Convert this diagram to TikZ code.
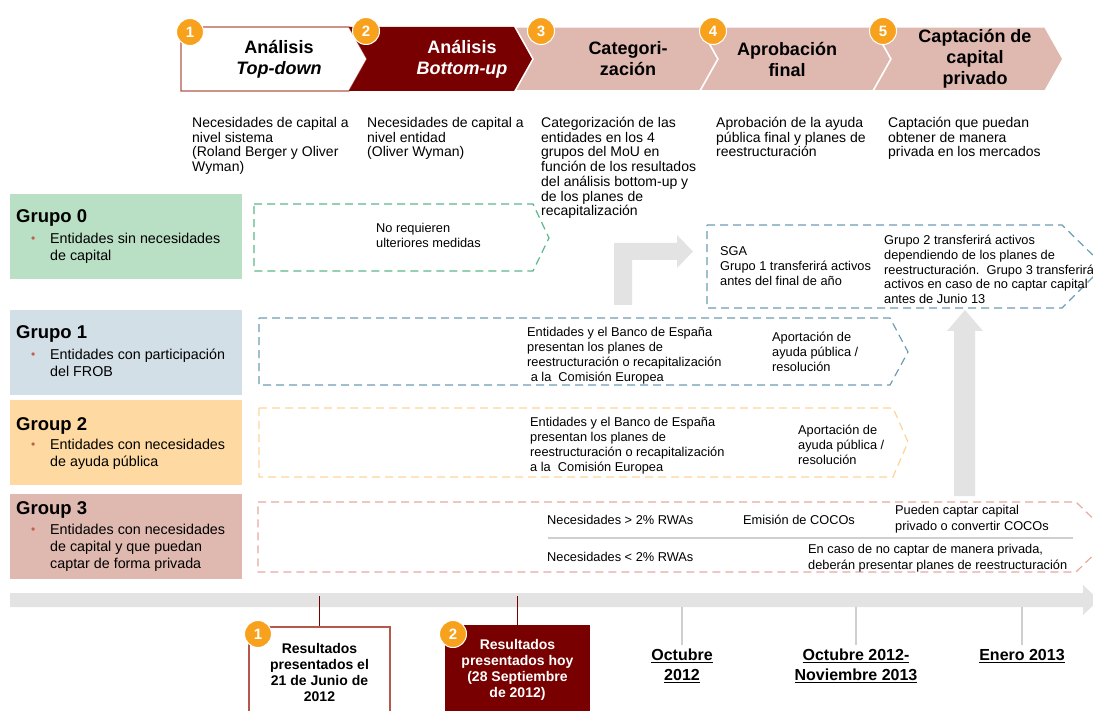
\documentclass[tikz,border=0pt]{standalone}
\usepackage{fontspec}
\setmainfont{Liberation Sans}
\usetikzlibrary{positioning}

\definecolor{rojo}{HTML}{780000}
\definecolor{rosa}{HTML}{DFB8AF}
\definecolor{naranja}{HTML}{F7A11D}
\definecolor{verdeg}{HTML}{B9DFC4}
\definecolor{azulg}{HTML}{D3DFE6}
\definecolor{amarillog}{HTML}{FED9A1}
\definecolor{verdel}{HTML}{5DB68A}
\definecolor{azull}{HTML}{6C9DB3}
\definecolor{amarillol}{HTML}{FCD49B}
\definecolor{rosal}{HTML}{E5A99F}
\definecolor{gris}{HTML}{E3E3E3}
\definecolor{vineta}{HTML}{C0604D}
\definecolor{borde}{HTML}{B5584B}

\begin{document}
\begin{tikzpicture}[x=1pt,y=-1pt,
  badge/.style={circle,fill=naranja,draw=white,line width=1pt,text=white,
    font=\bfseries\fontsize{15}{15}\selectfont,minimum size=27pt,inner sep=0pt},
  chevtxt/.style={align=center,font=\bfseries\fontsize{18}{21}\selectfont},
  desc/.style={anchor=north west,align=left,inner sep=0pt,
    font=\fontsize{14}{14.7}\selectfont},
  grpbox/.style={anchor=north west,minimum width=232pt,minimum height=85pt,inner sep=0pt},
  grptitle/.style={anchor=west,inner sep=0pt,font=\bfseries\fontsize{18.5}{20}\selectfont},
  grpitem/.style={anchor=north west,align=left,inner sep=0pt,font=\fontsize{14.3}{17}\selectfont},
  punto/.style={anchor=west,inner sep=0pt,text=vineta,font=\fontsize{12}{12}\selectfont},
  flecha/.style={dash pattern=on 8pt off 5pt,line width=1.2pt},
  dtxt/.style={anchor=north west,align=left,inner sep=0pt,font=\fontsize{12.8}{15}\selectfont},
  restxt/.style={anchor=north,align=center,font=\bfseries\fontsize{14}{16}\selectfont},
  fecha/.style={anchor=north,align=center,inner sep=1pt,font=\bfseries\fontsize{16}{20}\selectfont}]

\useasboundingbox (0,0) rectangle (1093,711);
\clip (0,0) rectangle (1093,711);

% fases
\filldraw [draw=borde, fill=white, line width=1.2pt] (181,27) -- (349,27) -- (367,59) -- (349,91) -- (181,91) -- cycle;
\fill [rojo] (349,27) -- (515,27) -- (533,59) -- (515,91) -- (349,91) -- (367,59) -- cycle;
\filldraw [draw=white, fill=rosa, line width=1.5pt] (515,27) -- (700,27) -- (718,59) -- (700,91) -- (515,91) -- (533,59) -- cycle;
\filldraw [draw=white, fill=rosa, line width=1.5pt] (700,27) -- (873,27) -- (891,59) -- (873,91) -- (700,91) -- (718,59) -- cycle;
\filldraw [draw=white, fill=rosa, line width=1.5pt] (873,27) -- (1045,27) -- (1063,59) -- (1045,91) -- (873,91) -- (891,59) -- cycle;

\node [chevtxt] (c1) at (279,59) {Análisis\\\textit{Top-down}};
\node [chevtxt, text=white] (c2) at (462,59) {Análisis\\\textit{Bottom-up}};
\node [chevtxt] (c3) at (628,59) {Categori-\\zación};
\node [chevtxt] (c4) at (787,59) {Aprobación\\final};
\node [chevtxt] (c5) at (975,59) {Captación de\\capital\\privado};

\node [badge] (b1) at (190,32) {1};
\node [badge] (b2) at (366,31) {2};
\node [badge] (b3) at (541,31) {3};
\node [badge] (b4) at (713,31) {4};
\node [badge] (b5) at (883,31) {5};

\node [desc] (d1) at (192,117) {Necesidades de capital a\\nivel sistema\\(Roland Berger y Oliver\\Wyman)};
\node [desc] (d2) at (367,117) {Necesidades de capital a\\nivel entidad\\(Oliver Wyman)};
\node [desc] (d3) at (541,117) {Categorización de las\\entidades en los 4\\grupos del MoU en\\función de los resultados\\del análisis bottom-up y\\de los planes de\\recapitalización};
\node [desc] (d4) at (716,117) {Aprobación de la ayuda\\pública final y planes de\\reestructuración};
\node [desc] (d5) at (888,117) {Captación que puedan\\obtener de manera\\privada en los mercados};

% grupos
\node [grpbox, fill=verdeg] (g0) at (10,194) {};
\node [grpbox, fill=azulg] (g1) at (10,310) {};
\node [grpbox, fill=amarillog] (g2) at (10,400) {};
\node [grpbox, fill=rosa] (g3) at (10,494) {};

\node [grptitle] (g0t) at (16,218) {Grupo 0};
\node [punto] (g0p) at (31,240) {•};
\node [grpitem] (g0i) at (50,233) {Entidades sin necesidades\\de capital};
\node [grptitle] (g1t) at (16,334) {Grupo 1};
\node [punto] (g1p) at (31,356) {•};
\node [grpitem] (g1i) at (50,349) {Entidades con participación\\del FROB};
\node [grptitle] (g2t) at (16,426) {Group 2};
\node [punto] (g2p) at (31,446) {•};
\node [grpitem] (g2i) at (50,439) {Entidades con necesidades\\de ayuda pública};
\node [grptitle] (g3t) at (16,510) {Group 3};
\node [punto] (g3p) at (31,531) {•};
\node [grpitem] (g3i) at (50,524) {Entidades con necesidades\\de capital y que puedan\\captar de forma privada};

% flechas discontinuas
\draw [flecha, verdel] (254,204) -- (533,204) -- (549,238) -- (533,271) -- (254,271) -- cycle;
\draw [flecha, azull] (259,318) -- (890,318) -- (908,352) -- (890,385) -- (259,385) -- cycle;
\draw [flecha, amarillol] (259,408) -- (893,408) -- (908,442) -- (893,477) -- (259,477) -- cycle;
\draw [flecha, rosal] (258,502) -- (1076,502) -- (1112,537) -- (1076,572) -- (258,572) -- cycle;
\draw [flecha, azull] (707,225) -- (1062,225) -- (1104,266) -- (1062,308) -- (707,308) -- cycle;

\node [dtxt] (n0) at (376,223) {No requieren\\ulteriores medidas};
\node [dtxt] (n1a) at (527,327) {Entidades y el Banco de España\\presentan los planes de\\reestructuración o recapitalización\\\ a la\ \ Comisión Europea};
\node [dtxt] (n1b) at (772,332) {Aportación de\\ayuda pública /\\resolución};
\node [dtxt] (n2a) at (530,417) {Entidades y el Banco de España\\presentan los planes de\\reestructuración o recapitalización\\a la\ \ Comisión Europea};
\node [dtxt] (n2b) at (798,425) {Aportación de\\ayuda pública /\\resolución};
\node [dtxt] (n3a) at (547,515) {Necesidades > 2\% RWAs};
\node [dtxt] (n3b) at (743,515) {Emisión de COCOs};
\node [dtxt, font=\fontsize{12.8}{16}\selectfont] (n3c) at (895,505) {Pueden captar capital\\privado o convertir COCOs};
\node [dtxt] (n3d) at (547,552) {Necesidades < 2\% RWAs};
\node [dtxt, font=\fontsize{12.8}{16}\selectfont] (n3e) at (808,544) {En caso de no captar de manera privada,\\deberán presentar planes de reestructuración};
\draw [gris!80!gray, line width=1.5pt] (548,538) -- (1073,538);
\node [dtxt] (s1) at (720,246) {SGA\\Grupo 1 transferirá activos\\antes del final de año};
\node [dtxt, font=\fontsize{12.8}{14.75}\selectfont] (s2) at (884,235) {Grupo 2 transferirá activos\\dependiendo de los planes de\\reestructuración.\ \ Grupo 3 transferirá\\activos en caso de no captar capital\\antes de Junio 13};

% flechas grises
\fill [gris] (614,305) -- (614,243) -- (677,243) -- (677,235) -- (693,251.5) -- (677,268) -- (677,260) -- (632,260) -- (632,305) -- cycle;
\fill [gris] (954,496) -- (954,331) -- (947,331) -- (965,310) -- (983,331) -- (975,331) -- (975,496) -- cycle;

% linea de tiempo
\fill [gris] (10,593) -- (1083,593) -- (1083,585) -- (1099,600) -- (1083,615) -- (1083,607) -- (10,607) -- cycle;

\coordinate (t1) at (319.5,596);
\coordinate (t2) at (517.5,596);
\coordinate (t3) at (682,607);
\coordinate (t4) at (856,607);
\coordinate (t5) at (1022,607);

\node [restxt, draw=borde, line width=2pt, fill=white, minimum width=141pt, minimum height=90pt] (r1) at (319.5,626) {Resultados\\presentados el\\21 de Junio de\\2012};
\node [restxt, fill=rojo, text=white, minimum width=145pt, minimum height=90pt] (r2) at (517.5,625) {Resultados\\presentados hoy\\(28 Septiembre\\de 2012)};
\node [badge] (rb1) at (258,634) {1};
\node [badge] (rb2) at (453,634) {2};

\node [fecha] (f1) at (682,648) {\underline{Octubre}\\\underline{2012}};
\node [fecha] (f2) at (856,648) {\underline{Octubre 2012-}\\\underline{Noviembre 2013}};
\node [fecha] (f3) at (1022,648) {\underline{Enero 2013}};

\draw [rojo, line width=1pt] (t1) -- (r1.north);
\draw [rojo, line width=1pt] (t2) -- (r2.north);
\draw [gris!80!gray, line width=1.5pt] (t3) -- ([yshift=3pt]f1.north);
\draw [gris!80!gray, line width=1.5pt] (t4) -- ([yshift=3pt]f2.north);
\draw [gris!80!gray, line width=1.5pt] (t5) -- ([yshift=3pt]f3.north);
\end{tikzpicture}
\end{document}
